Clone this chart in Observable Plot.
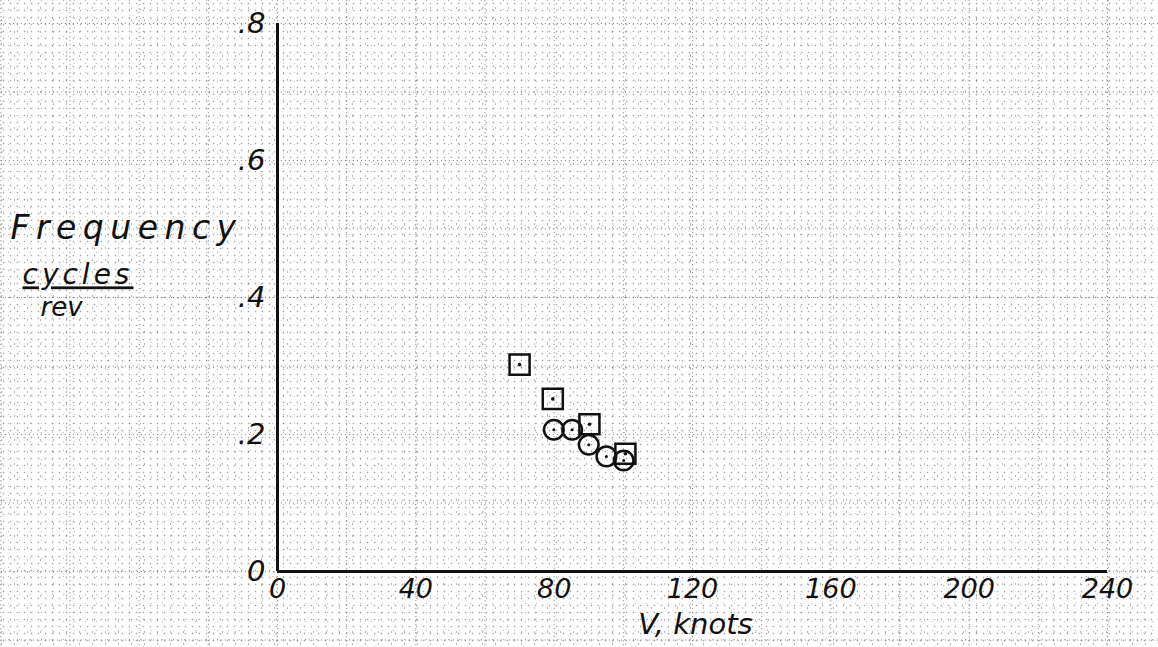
<!DOCTYPE html>
<html>
<head>
<meta charset="utf-8">
<script src="https://cdn.jsdelivr.net/npm/d3@7"></script>
<script src="https://cdn.jsdelivr.net/npm/@observablehq/plot@0.6"></script>
<style>
  html, body { margin: 0; padding: 0; width: 1158px; height: 647px; overflow: hidden; }
  body {
    background-color: #ffffff;
    background-image:
      radial-gradient(circle, rgba(80,80,80,0.5) 0.7px, transparent 1.1px),
      radial-gradient(circle, rgba(80,80,80,0.4) 0.6px, transparent 1px),
      radial-gradient(circle, rgba(80,80,80,0.4) 0.6px, transparent 1px);
    background-size: 7px 7px, 11px 9px, 13px 12px;
    background-position: 0 0, 3px 5px, 8px 2px;
  }
  #chart svg { display: block; }
</style>
</head>
<body>
<div id="chart"></div>
<script>
// --- data ---
const squareV = [70.0, 79.6, 90.2, 100.6];
const squareF = [0.302, 0.252, 0.215, 0.172];
const circleV = [79.9, 85.2, 90.0, 95.1, 100.1];
const circleF = [0.207, 0.207, 0.185, 0.168, 0.162];

// tick labels
const xTicks = [0, 40, 80, 120, 160, 200, 240];
const yTicks = [0, 0.2, 0.4, 0.6, 0.8];
const yTickLabels = ["0", ".2", ".4", ".6", ".8"];

// graph-paper grid values
const gridV = [-80, -60, -40, -20, 0, 20, 40, 60, 80, 100, 120, 140, 160, 180, 200, 220, 240, 260];
const gridF = [-0.1, 0, 0.1, 0.2, 0.3, 0.4, 0.5, 0.6, 0.7, 0.8];

const xLabel = "V, knots";
const yLabel1 = "Frequency";
const yLabelNum = "cycles";
const yLabelDen = "rev";

const squares = squareV.map((v, i) => ({v, f: squareF[i]}));
const circles = circleV.map((v, i) => ({v, f: circleF[i]}));

const font = "'DejaVu Sans', sans-serif";

const chart = Plot.plot({
  width: 1158,
  height: 647,
  marginLeft: 277,
  marginRight: 51,
  marginTop: 23,
  marginBottom: 76,
  style: {background: "transparent", fontFamily: font, color: "#111"},
  x: {domain: [0, 240]},
  y: {domain: [0, 0.8]},
  marks: [
    // graph paper grid (dotted)
    Plot.ruleX(gridV, {x: d => d, y1: -0.12, y2: 0.84, stroke: "#555", strokeDasharray: "1 3", strokeOpacity: 0.75}),
    Plot.ruleY(gridF, {y: d => d, x1: -81, x2: 256, stroke: "#555", strokeDasharray: "1 3", strokeOpacity: 0.75}),
    // axes lines
    Plot.ruleX([0], {stroke: "#111", strokeWidth: 3}),
    Plot.ruleY([0], {stroke: "#111", strokeWidth: 3}),
    Plot.axisX({ticks: xTicks, tickSize: 0, tickPadding: 7, fontSize: 27, fontStyle: "italic", label: null, fill: "#111"}),
    Plot.axisY({ticks: yTicks, tickFormat: d => yTickLabels[yTicks.indexOf(d)], tickSize: 0, tickPadding: 12, fontSize: 29, fontStyle: "italic", label: null, fill: "#111"}),
    // data
    Plot.dot(squares, {x: "v", y: "f", symbol: "square", r: 11.3, stroke: "#111", strokeWidth: 2.5, fill: "none"}),
    Plot.dot(circles, {x: "v", y: "f", symbol: "circle", r: 9.8, stroke: "#111", strokeWidth: 2.5, fill: "none"}),
    Plot.dot(squares, {x: "v", y: "f", r: 1.8, fill: "#111"}),
    Plot.dot(circles, {x: "v", y: "f", r: 1.5, fill: "#111"}),
    // axis titles
    Plot.text([xLabel], {frameAnchor: "bottom", dx: 3, dy: 62, fontSize: 29, fontStyle: "italic", fill: "#111"}),
    Plot.text([yLabel1], {frameAnchor: "top-left", textAnchor: "start", dx: -267, dy: 192, fontSize: 33, fontStyle: "italic", fill: "#111", className: "ylab1"}),
    Plot.text([yLabelNum], {frameAnchor: "top-left", textAnchor: "start", dx: -255, dy: 241, fontSize: 28, fontStyle: "italic", fill: "#111", className: "ylabnum"}),
    Plot.text([yLabelDen], {frameAnchor: "top-left", textAnchor: "start", dx: -237, dy: 274, fontSize: 26, fontStyle: "italic", fill: "#111"})
  ]
});

document.getElementById("chart").appendChild(chart);
d3.select(chart).selectAll(".ylab1 text").attr("letter-spacing", "6.5px");
d3.select(chart).selectAll(".ylabnum text").attr("letter-spacing", "4px").style("text-decoration", "underline");
</script>
</body>
</html>
